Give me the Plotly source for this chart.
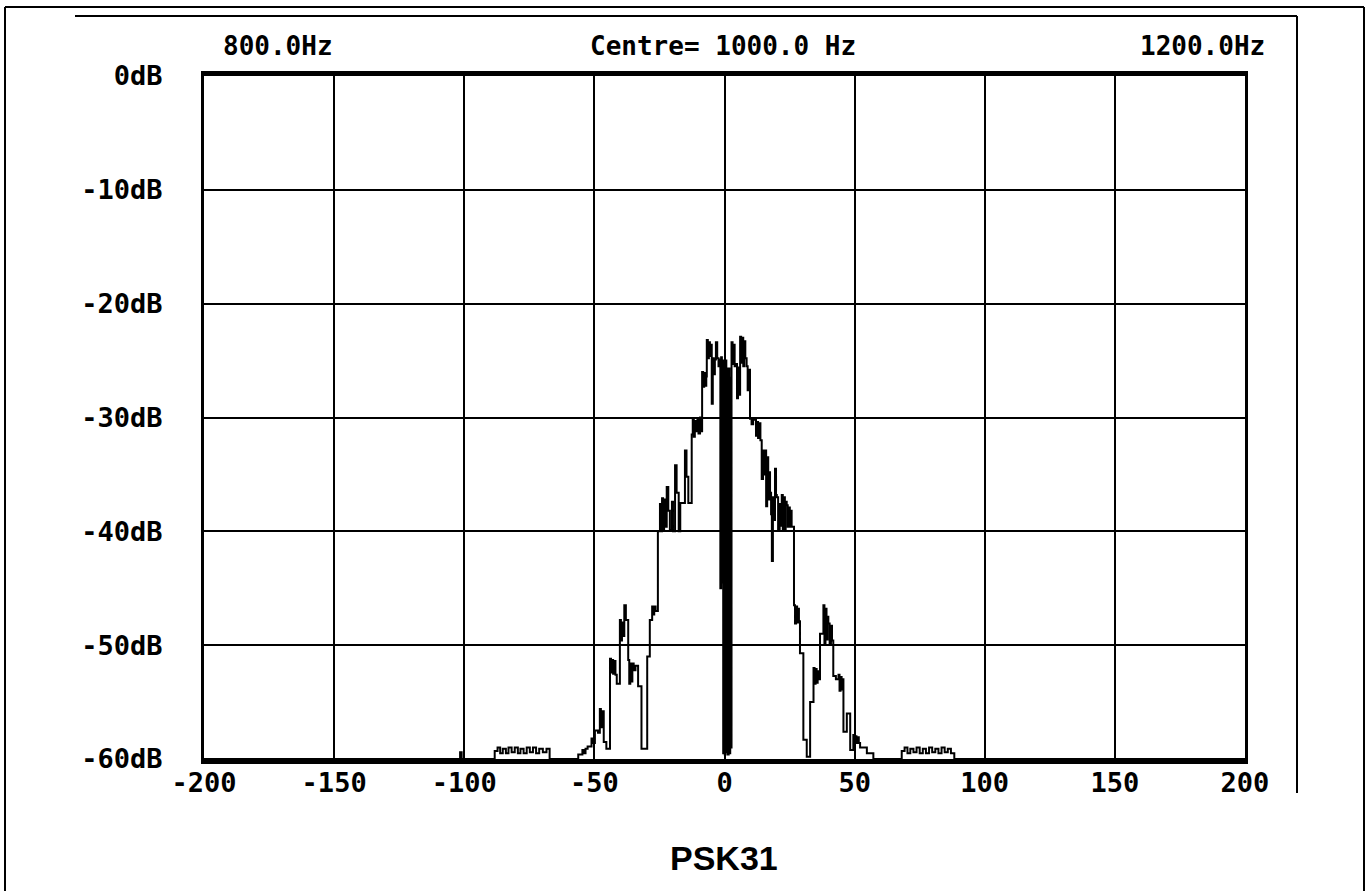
import plotly.graph_objects as go

# ---------------- data ----------------
# frequency offset from centre (Hz) and level (dB); drawn as a stepped line
left_noise_hz = [-200, -101.6, -101.0, -88.3, -87.2, -86.2, -85.2, -84.0, -83.0, -81.8,
                 -80.6, -79.4, -78.4, -77.2, -76.0, -74.8, -73.6, -72.4, -71.2, -69.8,
                 -68.4, -67.2]
left_noise_db = [-60, -59.4, -60, -59.3, -59.0, -59.5, -59.1, -59.5, -59.0, -59.4,
                 -59.0, -59.5, -59.1, -59.5, -59.0, -59.4, -59.0, -59.5, -59.1, -59.4,
                 -59.1, -60]

left_skirt_hz = [-56.2, -54.6, -54.0, -53.4, -52.6, -51.1, -50.6, -49.8, -48.6, -47.9,
                 -47.5, -47.0, -46.4, -45.4, -44.0, -43.6, -43.2, -42.8, -42.4, -41.9,
                 -41.4, -40.2, -39.8, -39.4, -39.0, -38.5, -37.9, -37.0, -36.6, -36.2,
                 -35.8, -35.4, -34.9, -34.2, -33.2, -31.9, -29.7, -28.7, -27.8, -27.4,
                 -27.0, -26.5, -25.6, -24.8, -24.4, -24.0, -23.6, -23.2, -22.8, -22.2,
                 -21.6, -21.0, -20.2, -19.8, -19.0, -18.4, -17.6, -17.0, -15.2, -14.6,
                 -13.9, -12.6, -12.2, -11.8, -11.4, -11.0, -10.4, -10.0, -9.4, -9.0,
                 -8.6, -8.2, -7.8, -7.4, -7.0, -6.8, -6.4, -6.0, -5.6, -5.2,
                 -4.9, -4.5, -4.1, -3.7, -3.3, -2.8, -2.3, -1.7]
left_skirt_db = [-59.6, -59.2, -59.5, -59.1, -58.9, -58.2, -58.6, -57.5, -57.7, -55.6,
                 -57.2, -55.8, -58.5, -59.1, -51.2, -52.4, -51.3, -52.5, -51.4, -52.6,
                 -53.4, -47.8, -49.6, -48.0, -49.2, -46.5, -47.8, -51.3, -53.4, -51.6,
                 -53.2, -51.6, -52.2, -51.8, -53.6, -59.1, -51.0, -47.8, -46.6, -47.3,
                 -46.6, -47.0, -40.0, -37.6, -40.0, -37.1, -39.8, -37.2, -39.6, -36.1,
                 -38.2, -39.9, -37.4, -40.0, -34.2, -36.6, -40.0, -37.5, -32.9, -35.2,
                 -37.5, -31.5, -30.1, -31.7, -30.3, -31.2, -30.2, -31.4, -30.0, -31.2,
                 -26.0, -27.3, -26.1, -27.2, -26.4, -23.2, -24.8, -23.4, -24.6, -23.6,
                 -28.8, -24.8, -26.2, -24.9, -23.4, -24.8, -25.5, -24.9]

centre_hz = [-1.6, -1.3, -1.0, -0.7, -0.5, -0.2, 0.1, 0.4, 0.7, 1.0,
             1.3, 1.6, 1.9, 2.2, 2.5]
centre_db = [-45.0, -24.7, -44.5, -25.0, -59.5, -25.2, -59.6, -25.0, -59.4, -25.7,
             -59.6, -25.7, -59.5, -26.5, -59.0]

right_skirt_hz = [2.7, 3.1, 3.5, 3.9, 4.4, 4.8, 5.2, 5.6, 6.0, 6.4,
                  6.8, 7.2, 7.6, 8.0, 8.5, 8.9, 9.3, 9.8, 10.4, 11.0,
                  11.7, 12.1, 12.5, 12.9, 13.4, 13.8, 14.3, 14.8, 15.2, 15.6,
                  16.0, 16.4, 16.8, 17.2, 17.5, 17.9, 18.2, 18.6, 19.0, 19.4,
                  19.8, 20.1, 20.6, 21.2, 21.6, 22.0, 22.4, 22.8, 23.2, 23.5,
                  23.9, 24.3, 24.7, 25.1, 25.4, 25.8, 26.7, 27.1, 27.5, 27.9,
                  28.3, 28.6, 29.0, 30.3, 31.6, 32.9, 34.2, 34.6, 35.0, 35.4,
                  35.8, 36.2, 36.7, 38.0, 38.4, 38.8, 39.2, 39.6, 39.9, 40.4,
                  40.9, 41.3, 41.8, 42.8, 43.8, 44.2, 44.6, 45.0, 45.4, 45.7,
                  47.0, 48.3, 49.5, 49.9, 50.3, 50.7, 51.2, 51.6, 52.1, 54.7,
                  57.2]
right_skirt_db = [-23.4, -25.3, -23.6, -25.5, -25.3, -28.3, -25.6, -28.0, -22.9, -25.2,
                  -23.0, -25.5, -23.3, -24.8, -25.5, -27.6, -25.8, -30.1, -30.6, -30.2,
                  -30.2, -31.6, -30.4, -31.8, -30.5, -32.0, -35.4, -32.9, -35.0, -32.9,
                  -37.8, -33.5, -37.2, -34.8, -36.6, -38.5, -42.6, -37.0, -39.0, -34.5,
                  -36.8, -37.0, -39.9, -37.6, -39.5, -36.8, -39.9, -37.0, -39.8, -37.4,
                  -37.7, -39.6, -37.9, -39.6, -38.2, -39.6, -46.5, -48.1, -46.6, -48.0,
                  -46.8, -47.9, -50.7, -58.3, -59.8, -55.0, -52.0, -53.4, -52.1, -53.3,
                  -52.3, -53.0, -49.0, -46.5, -49.8, -46.8, -49.5, -47.5, -48.1, -49.9,
                  -48.3, -49.6, -52.7, -53.0, -52.6, -54.0, -52.8, -53.9, -53.0, -57.6,
                  -56.0, -59.2, -57.9, -58.6, -58.0, -58.6, -58.1, -58.6, -59.0, -59.5,
                  -60]

right_noise_hz = [68.1, 69.2, 70.3, 71.4, 72.6, 73.8, 75.0, 76.2, 77.4, 78.6,
                  79.8, 81.0, 82.2, 83.4, 84.6, 85.8, 87.0, 88.3, 200]
right_noise_db = [-59.3, -59.0, -59.5, -59.1, -59.4, -59.0, -59.5, -59.1, -59.5, -59.0,
                  -59.4, -59.1, -59.5, -59.0, -59.4, -59.1, -59.5, -60, -60]

x_tick_vals = [-200, -150, -100, -50, 0, 50, 100, 150, 200]
x_tick_text = ["-200", "-150", "-100", "-50", "0", "50", "100", "150", "200"]
y_tick_vals = [0, -10, -20, -30, -40, -50, -60]
y_tick_text = ["0dB", "-10dB", "-20dB", "-30dB", "-40dB", "-50dB", "-60dB"]

top_left_label = "800.0Hz"
top_centre_label = "Centre= 1000.0 Hz"
top_right_label = "1200.0Hz"
chart_title = "PSK31"

# ---------------- figure ----------------
freq_hz = left_noise_hz + left_skirt_hz + centre_hz + right_skirt_hz + right_noise_hz
level_db = left_noise_db + left_skirt_db + centre_db + right_skirt_db + right_noise_db

W, H = 1367, 891
PL, PR, PT, PB = 204, 1245, 76, 759   # plot area in pixels


def px(x):
    return (x - PL) / (PR - PL)


def py(y):
    return (PB - y) / (PB - PT)


mono = "DejaVu Sans Mono"
tick_font = dict(family=mono, size=27, color="black", weight="bold")

fig = go.Figure()
fig.add_trace(go.Scatter(
    x=freq_hz, y=level_db, mode="lines",
    line=dict(color="black", width=2, shape="hv"),
    hoverinfo="skip", showlegend=False,
))

fig.update_layout(
    width=W, height=H,
    margin=dict(l=PL, r=W - PR, t=PT, b=H - PB),
    paper_bgcolor="white", plot_bgcolor="white",
    showlegend=False,
)
fig.update_xaxes(
    range=[-200, 200], tickmode="array", tickvals=x_tick_vals, ticktext=x_tick_text,
    showgrid=True, gridcolor="black", gridwidth=2, zeroline=False,
    showline=True, linecolor="black", linewidth=5, mirror=True,
    ticks="", tickfont=tick_font, ticklabelstandoff=-4,
)
fig.update_yaxes(
    range=[-60, 0], tickmode="array", tickvals=y_tick_vals, ticktext=y_tick_text,
    showgrid=True, gridcolor="black", gridwidth=2, zeroline=False,
    showline=True, linecolor="black", linewidth=3, mirror=True,
    ticks="", tickfont=tick_font, ticklabelstandoff=33,
)

# frame lines around the picture
frame = [
    (5, 7, 5, 900), (5, 7, 1364, 7), (1364, 7, 1364, 900),     # outer border
    (75, 16, 1297, 16), (1297, 16, 1297, 793),                  # inner screen frame
]
for x0, y0, x1, y1 in frame:
    fig.add_shape(type="line", xref="paper", yref="paper",
                  x0=px(x0), y0=py(y0), x1=px(x1), y1=py(y1),
                  line=dict(color="black", width=2))

label_font = dict(family=mono, size=26, color="black", weight="bold")
for text, xc in [(top_left_label, 278), (top_centre_label, 723), (top_right_label, 1202)]:
    fig.add_annotation(text=text, xref="paper", yref="paper",
                       x=px(xc), y=py(46), xanchor="center", yanchor="middle",
                       showarrow=False, font=label_font)
fig.add_annotation(text="<b>" + chart_title + "</b>", xref="paper", yref="paper",
                   x=px(724), y=py(858), xanchor="center", yanchor="middle",
                   showarrow=False,
                   font=dict(family="Liberation Sans", size=34, color="black"))

fig.write_html("out.html")
